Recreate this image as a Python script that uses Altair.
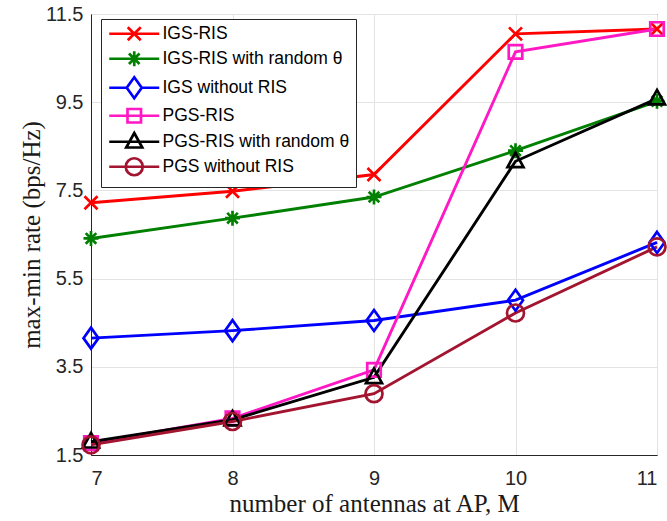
import altair as alt
import pandas as pd

# ---- data ----
antennas = [7, 8, 9, 10, 11]
series_names = [
    "IGS-RIS",
    "IGS-RIS with random θ",
    "IGS without RIS",
    "PGS-RIS",
    "PGS-RIS with random θ",
    "PGS without RIS",
]
igs_ris = [7.22, 7.48, 7.86, 11.05, 11.16]
igs_ris_rand = [6.41, 6.87, 7.35, 8.40, 9.52]
igs_no_ris = [4.15, 4.32, 4.55, 5.01, 6.32]
pgs_ris = [1.77, 2.33, 3.43, 10.64, 11.16]
pgs_ris_rand = [1.80, 2.30, 3.26, 8.16, 9.58]
pgs_no_ris = [1.73, 2.26, 2.89, 4.72, 6.22]
all_values = [igs_ris, igs_ris_rand, igs_no_ris, pgs_ris, pgs_ris_rand, pgs_no_ris]

y_ticks = [1.5, 3.5, 5.5, 7.5, 9.5, 11.5]

colors = ["#FF0000", "#008000", "#0000FF", "#FF19C4", "#000000", "#A2142F"]

# marker outlines (unit = sqrt(size)/2)
marker_paths = [
    "M-1.3,-1.3L1.3,1.3M-1.3,1.3L1.3,-1.3",
    "M-1.5,0H1.5M0,-1.5V1.5M-1.06,-1.06L1.06,1.06M-1.06,1.06L1.06,-1.06",
    "M0,-2.1L1.5,0L0,2.1L-1.5,0Z",
    "M-1.35,-1.35H1.35V1.35H-1.35Z",
    "M0,-1.75L1.6,1.15H-1.6Z",
    "M1.7,0A1.7,1.7,0,1,1,-1.7,0A1.7,1.7,0,1,1,1.7,0Z",
]
# legend symbols: line segment with the marker on it
legend_paths = [
    "M-1.3,0H8.7M2.4,-1.3L5,1.3M2.4,1.3L5,-1.3",
    "M-1.3,0H8.7M3.7,-1.5V1.5M2.64,-1.06L4.76,1.06M2.64,1.06L4.76,-1.06",
    "M-1.3,0H2.2M5.2,0H8.7M3.7,-2.1L5.2,0L3.7,2.1L2.2,0Z",
    "M-1.3,0H8.7M2.35,-1.35H5.05V1.35H2.35Z",
    "M-1.3,0H8.7M3.7,-1.75L5.3,1.15H2.1Z",
    "M-1.3,0H8.7M5.4,0A1.7,1.7,0,1,1,2.0,0A1.7,1.7,0,1,1,5.4,0Z",
]

rows = []
for name, vals in zip(series_names, all_values):
    for m, v in zip(antennas, vals):
        rows.append({"series": name, "M": m, "rate": v})
df = pd.DataFrame(rows)

x_enc = alt.X(
    "M:Q",
    scale=alt.Scale(domain=[7, 11], nice=False, zero=False),
    axis=alt.Axis(values=antennas, format="d", title="number of antennas at AP, M"),
)
y_enc = alt.Y(
    "rate:Q",
    scale=alt.Scale(domain=[1.5, 11.5], nice=False, zero=False),
    axis=alt.Axis(values=y_ticks, format=".1f", title="max-min rate (bps/Hz)"),
)

base = alt.Chart(df)

lines = base.mark_line(strokeWidth=2.9).encode(
    x=x_enc,
    y=y_enc,
    color=alt.Color("series:N", scale=alt.Scale(domain=series_names, range=colors), legend=None),
    order="M:Q",
)

points = base.mark_point(filled=False, size=100, strokeWidth=2.7, opacity=1).encode(
    x=x_enc,
    y=y_enc,
    color=alt.Color("series:N", scale=alt.Scale(domain=series_names, range=colors), legend=None),
    shape=alt.Shape("series:N", scale=alt.Scale(domain=series_names, range=marker_paths), legend=None),
)

leg = alt.Legend(
    title=None,
    orient="none",
    legendX=10,
    legendY=5,
    labelFont="Liberation Sans",
    labelFontSize=17.5,
    labelColor="black",
    labelOffset=38,
    labelLimit=400,
    symbolSize=100,
    symbolStrokeWidth=2.7,
    padding=6,
    rowPadding=-1.0,
    strokeColor="#262626",
    fillColor="white",
)

legend_layer = base.mark_point(filled=False, size=100, strokeWidth=2.7, opacity=1).encode(
    x=x_enc,
    y=y_enc,
    color=alt.Color("series:N", scale=alt.Scale(domain=series_names, range=colors), legend=leg),
    shape=alt.Shape("series:N", scale=alt.Scale(domain=series_names, range=legend_paths), legend=leg),
).transform_filter("false")

chart = (
    alt.layer(lines, points, legend_layer)
    .resolve_scale(color="independent", shape="independent")
    .properties(
        width=566,
        height=441,
        autosize=alt.AutoSizeParams(type="none"),
        padding={"left": 91, "top": 14, "right": 10, "bottom": 66},
    )
    .configure_view(stroke="#262626", strokeWidth=1)
    .configure_axis(
        labelFont="Liberation Sans",
        labelFontSize=20,
        labelColor="#262626",
        titleFont="Liberation Serif",
        titleFontSize=25,
        titleFontWeight="normal",
        titleColor="#1a1a1a",
        domainColor="#262626",
        gridColor="#E3E3E3",
        gridWidth=1,
        ticks=False,
        tickSize=0,
    )
    .configure_axisX(labelPadding=13, titlePadding=3)
    .configure_axisY(labelPadding=8, titlePadding=1)
)

chart.save("out.html", embed_options={"renderer": "svg", "actions": False})
